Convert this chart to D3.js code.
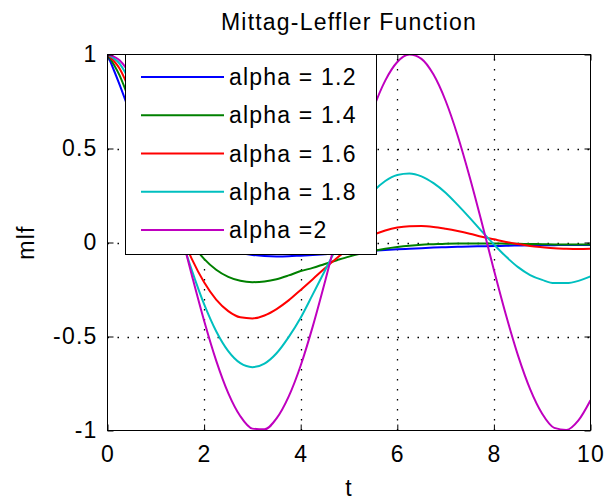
<!DOCTYPE html>
<html><head><meta charset="utf-8">
<script src="https://cdn.jsdelivr.net/npm/d3@7"></script>
<style>
body{margin:0;background:#fff;}
text{font-family:"Liberation Sans",Arial,sans-serif;fill:#000;}
</style>
</head><body>
<svg id="chart" width="605" height="501"></svg>
<script>
// ---- data ----
const tValues = [0,0.25,0.5,0.75,1,1.25,1.5,1.75,2,2.25,2.5,2.75,3,3.25,3.5,3.75,4,4.25,4.5,4.75,5,5.25,5.5,5.75,6,6.25,6.5,6.75,7,7.25,7.5,7.75,8,8.25,8.5,8.75,9,9.25,9.5,9.75,10];
const alpha12 = [1,0.840,0.667,0.502,0.364,0.253,0.158,0.088,0.032,-0.007,-0.036,-0.055,-0.066,-0.072,-0.074,-0.073,-0.070,-0.067,-0.063,-0.058,-0.054,-0.049,-0.044,-0.040,-0.036,-0.033,-0.030,-0.027,-0.025,-0.023,-0.021,-0.020,-0.019,-0.017,-0.016,-0.015,-0.015,-0.014,-0.013,-0.013,-0.013];
const alpha14 = [1,0.889,0.724,0.548,0.380,0.229,0.099,-0.006,-0.087,-0.145,-0.183,-0.204,-0.211,-0.207,-0.195,-0.175,-0.152,-0.135,-0.114,-0.094,-0.075,-0.059,-0.045,-0.033,-0.024,-0.017,-0.012,-0.009,-0.006,-0.005,-0.005,-0.005,-0.005,-0.006,-0.007,-0.008,-0.009,-0.010,-0.010,-0.011,-0.011];
const alpha16 = [1,0.925,0.783,0.607,0.418,0.232,0.060,-0.090,-0.212,-0.304,-0.365,-0.398,-0.404,-0.388,-0.354,-0.308,-0.252,-0.195,-0.137,-0.082,-0.034,0.008,0.040,0.064,0.080,0.087,0.088,0.083,0.073,0.061,0.047,0.031,0.017,0.003,-0.008,-0.018,-0.025,-0.031,-0.033,-0.034,-0.033];
const alpha18 = [1,0.951,0.835,0.671,0.474,0.262,0.049,-0.151,-0.328,-0.472,-0.578,-0.642,-0.663,-0.644,-0.589,-0.503,-0.400,-0.276,-0.150,-0.025,0.092,0.191,0.271,0.327,0.359,0.367,0.352,0.316,0.265,0.200,0.131,0.059,-0.010,-0.075,-0.131,-0.173,-0.199,-0.216,-0.216,-0.204,-0.180];
const alpha20 = [1,0.969,0.878,0.732,0.540,0.315,0.071,-0.178,-0.416,-0.628,-0.801,-0.924,-0.990,-0.994,-0.936,-0.820,-0.654,-0.446,-0.211,0.037,0.284,0.512,0.709,0.861,0.960,1.000,0.977,0.893,0.754,0.568,0.347,0.105,-0.146,-0.386,-0.602,-0.780,-0.911,-0.986,-0.997,-0.946,-0.839];
const seriesNames = ["alpha = 1.2","alpha = 1.4","alpha = 1.6","alpha = 1.8","alpha =2"];
const seriesColors = ["#0000ff","#008000","#ff0000","#00bfbf","#bf00bf"];
const xTicks = [0,2,4,6,8,10];
const yTicks = [-1,-0.5,0,0.5,1];
const titleText = "Mittag-Leffler Function";
const xLabelText = "t";
const yLabelText = "mlf";

const seriesValues = [alpha12, alpha14, alpha16, alpha18, alpha20];
const series = seriesNames.map((n,i)=>({name:n,color:seriesColors[i],values:seriesValues[i]}));

// ---- layout ----
const W=605,H=501;
const L=107.5,R=590.5,T=54.5,B=430.5;
const FS=23, LS=1.2;
const svg=d3.select("#chart");
svg.append("rect").attr("width",W).attr("height",H).attr("fill","#fff");

const x=d3.scaleLinear().domain([0,10]).range([L,R]);
const y=d3.scaleLinear().domain([-1,1]).range([B,T]);

// grid
const grid=svg.append("g").attr("stroke","#000").attr("stroke-width",1.3).attr("stroke-dasharray","1.5,8.5");
grid.selectAll("line.gx").data(xTicks.filter(d=>d>0&&d<10)).enter().append("line")
  .attr("x1",d=>Math.round(x(d))+0.5).attr("x2",d=>Math.round(x(d))+0.5).attr("y1",B).attr("y2",T);
grid.selectAll("line.gy").data(yTicks.filter(d=>d>-1&&d<1)).enter().append("line")
  .attr("y1",d=>Math.round(y(d))+0.5).attr("y2",d=>Math.round(y(d))+0.5).attr("x1",L).attr("x2",R);

// clip
svg.append("clipPath").attr("id","clip").append("rect").attr("x",L).attr("y",T).attr("width",R-L).attr("height",B-T);

const line=d3.line().x((d,i)=>x(tValues[i])).y(d=>y(d)).curve(d3.curveMonotoneX);
const plot=svg.append("g").attr("clip-path","url(#clip)");
series.forEach(s=>{
  plot.append("path").attr("d",line(s.values)).attr("fill","none").attr("stroke",s.color).attr("stroke-width",2).attr("stroke-linejoin","round");
});

// axes (inward ticks on all sides)
function styleAxis(g){
  g.selectAll("path.domain").remove();
  g.selectAll("line").attr("stroke","#000").attr("stroke-width",1);
  g.selectAll("text").style("font-size",FS+"px").style("letter-spacing",LS+"px").attr("fill","#000");
}
svg.append("g").attr("transform",`translate(0,${B})`)
  .call(d3.axisBottom(x).tickValues(xTicks).tickSize(-6).tickPadding(15).tickFormat(d3.format("d")))
  .call(styleAxis);
svg.append("g").attr("transform",`translate(0,${T})`)
  .call(d3.axisTop(x).tickValues(xTicks).tickSize(-6).tickFormat(""))
  .call(styleAxis);
svg.append("g").attr("transform",`translate(${L},0)`)
  .call(d3.axisLeft(y).tickValues(yTicks).tickSize(-6).tickPadding(10).tickFormat(d=>String(d)))
  .call(styleAxis);
svg.append("g").attr("transform",`translate(${R},0)`)
  .call(d3.axisRight(y).tickValues(yTicks).tickSize(-6).tickFormat(""))
  .call(styleAxis);

// frame
svg.append("rect").attr("x",L).attr("y",T).attr("width",R-L).attr("height",B-T)
  .attr("fill","none").attr("stroke","#000").attr("stroke-width",1);

// legend
const lg=svg.append("g");
const LX0=125.5, LY0=54.5, LX1=376.5, LY1=254.5;
lg.append("rect").attr("x",LX0).attr("y",LY0).attr("width",LX1-LX0).attr("height",LY1-LY0)
  .attr("fill","#fff").attr("stroke","#000").attr("stroke-width",1);
const rowY=d3.scaleLinear().domain([0,4]).range([77,230]);
series.forEach((s,i)=>{
  lg.append("line").attr("x1",141).attr("x2",224).attr("y1",rowY(i)).attr("y2",rowY(i))
    .attr("stroke",s.color).attr("stroke-width",2);
  lg.append("text").attr("x",229).attr("y",rowY(i)).attr("dy","0.35em")
    .style("font-size",FS+"px").style("letter-spacing",LS+"px").text(s.name);
});

// title & labels
svg.append("text").attr("x",(L+R)/2).attr("y",30).attr("text-anchor","middle")
  .style("font-size",FS+"px").style("letter-spacing",LS+"px").text(titleText);
svg.append("text").attr("x",(L+R)/2).attr("y",496).attr("text-anchor","middle")
  .style("font-size",FS+"px").style("letter-spacing",LS+"px").text(xLabelText);
svg.append("text").attr("transform",`translate(34,${(T+B)/2}) rotate(-90)`).attr("text-anchor","middle")
  .style("font-size",FS+"px").style("letter-spacing",LS+"px").text(yLabelText);
</script>
</body></html>
